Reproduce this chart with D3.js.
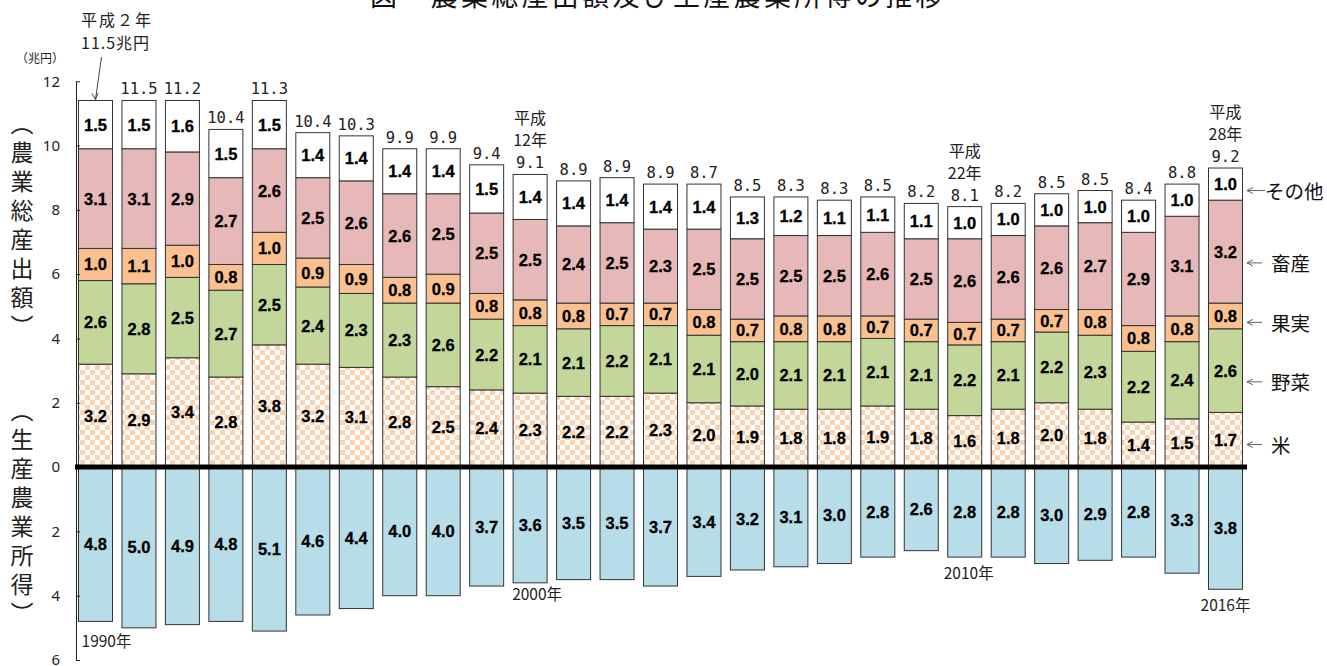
<!DOCTYPE html>
<html><head><meta charset="utf-8">
<script src="https://cdn.jsdelivr.net/npm/d3@7"></script>
<style>body{margin:0;background:#fff} svg{display:block} text{text-spacing-trim:space-all}</style>
</head><body>
<svg id="c" width="1327" height="666"></svg>
<script>
// ---- data ----
const years = d3.range(1990, 2017).map(String);
const rice      = [3.2,2.9,3.4,2.8,3.8,3.2,3.1,2.8,2.5,2.4,2.3,2.2,2.2,2.3,2.0,1.9,1.8,1.8,1.9,1.8,1.6,1.8,2.0,1.8,1.4,1.5,1.7];
const vegetables= [2.6,2.8,2.5,2.7,2.5,2.4,2.3,2.3,2.6,2.2,2.1,2.1,2.2,2.1,2.1,2.0,2.1,2.1,2.1,2.1,2.2,2.1,2.2,2.3,2.2,2.4,2.6];
const fruits    = [1.0,1.1,1.0,0.8,1.0,0.9,0.9,0.8,0.9,0.8,0.8,0.8,0.7,0.7,0.8,0.7,0.8,0.8,0.7,0.7,0.7,0.7,0.7,0.8,0.8,0.8,0.8];
const livestock = [3.1,3.1,2.9,2.7,2.6,2.5,2.6,2.6,2.5,2.5,2.5,2.4,2.5,2.3,2.5,2.5,2.5,2.5,2.6,2.5,2.6,2.6,2.6,2.7,2.9,3.1,3.2];
const others    = [1.5,1.5,1.6,1.5,1.5,1.4,1.4,1.4,1.4,1.5,1.4,1.4,1.4,1.4,1.4,1.3,1.2,1.1,1.1,1.1,1.0,1.0,1.0,1.0,1.0,1.0,1.0];
const totals    = [11.5,11.5,11.2,10.4,11.3,10.4,10.3,9.9,9.9,9.4,9.1,8.9,8.9,8.9,8.7,8.5,8.3,8.3,8.5,8.2,8.1,8.2,8.5,8.5,8.4,8.8,9.2];
const income    = [4.8,5.0,4.9,4.8,5.1,4.6,4.4,4.0,4.0,3.7,3.6,3.5,3.5,3.7,3.4,3.2,3.1,3.0,2.8,2.6,2.8,2.8,3.0,2.9,2.8,3.3,3.8];
const seriesKeys  = ["rice","vegetables","fruits","livestock","others"];
const seriesNames = ["米","野菜","果実","畜産","その他"];
const tickValues  = [-6,-4,-2,0,2,4,6,8,10,12];
const heiseiNotes = [{year:"2000", era:"平成", nen:"12年"},{year:"2010", era:"平成", nen:"22年"},{year:"2016", era:"平成", nen:"28年"}];
const yearNotes   = ["1990","2000","2010","2016"];

const title = "図　農業総産出額及び生産農業所得の推移";

// ---- chart ----
const svg = d3.select("#c");
const x = d3.scaleBand().domain(years).range([78.5, 1242.5]).paddingInner(0.2177).paddingOuter(0);
const y = d3.scaleLinear().domain([-6, 12]).range([660, 81.2]);
const bw = x.bandwidth();

const defs = svg.append("defs");
const pat = defs.append("pattern").attr("id","check").attr("patternUnits","userSpaceOnUse")
  .attr("width",10).attr("height",10);
pat.append("rect").attr("width",10).attr("height",10).attr("fill","#ffffff");
pat.append("rect").attr("width",5).attr("height",5).attr("fill","#fcd3ae");
pat.append("rect").attr("x",5).attr("y",5).attr("width",5).attr("height",5).attr("fill","#fcd3ae");

const fills = {rice:"url(#check)", vegetables:"#c4d79b", fruits:"#fac090", livestock:"#e6b8b7", others:"#ffffff"};

// title
svg.append("text").attr("x", 370).attr("y", 6)
  .attr("font-family","'Noto Sans CJK JP'").attr("font-size",27).attr("letter-spacing",3.3)
  .attr("fill","#111").text(title);

const rows = years.map((yr,i)=>({year:yr, rice:rice[i], vegetables:vegetables[i], fruits:fruits[i], livestock:livestock[i], others:others[i], total:totals[i], income:income[i]}));
const stack = d3.stack().keys(seriesKeys)(rows);

const labelFont = "'Liberation Sans', Arial";

// income bars
svg.append("g").selectAll("rect").data(rows).join("rect")
  .attr("x", d=>x(d.year)).attr("width", bw)
  .attr("y", y(0)).attr("height", d=>y(-d.income)-y(0))
  .attr("fill","#b7dde8").attr("stroke","#333").attr("stroke-width",1);

svg.append("g").selectAll("text").data(rows).join("text")
  .attr("x", d=>x(d.year)+bw/2).attr("y", d=>y(-d.income/2))
  .attr("text-anchor","middle").attr("dominant-baseline","central")
  .attr("font-family",labelFont).attr("font-weight","bold").attr("font-size",16.5)
  .attr("stroke","#000").attr("stroke-width",0.3)
  .text(d=>d.income.toFixed(1));

// stacked bars
const sg = svg.append("g");
stack.forEach(layer=>{
  const g = sg.append("g");
  g.selectAll("rect").data(layer).join("rect")
    .attr("x", d=>x(d.data.year)).attr("width", bw)
    .attr("y", d=>y(d[1])).attr("height", d=>y(d[0])-y(d[1]))
    .attr("fill", fills[layer.key]).attr("stroke","#333").attr("stroke-width",1);
  g.selectAll("text").data(layer).join("text")
    .attr("x", d=>x(d.data.year)+bw/2).attr("y", d=>y((d[0]+d[1])/2))
    .attr("text-anchor","middle").attr("dominant-baseline","central")
    .attr("font-family",labelFont).attr("font-weight","bold").attr("font-size",16.5)
    .attr("stroke","#000").attr("stroke-width",0.3)
    .text(d=>(d[1]-d[0]).toFixed(1));
});

// totals above bars
const topOf = i => stack[stack.length-1][i][1];
svg.append("g").selectAll("text").data(rows.slice(1)).join("text")
  .attr("x", d=>x(d.year)+bw/2).attr("y", (d,i)=>y(topOf(i+1))-6)
  .attr("text-anchor","middle")
  .attr("font-family","'DejaVu Sans Mono'").attr("font-size",15.5).attr("fill","#222")
  .text(d=>d.total.toFixed(1));

// heisei notes
heiseiNotes.forEach(n=>{
  const i = years.indexOf(n.year);
  const cx = x(n.year)+bw/2, base = y(topOf(i))-6;
  [n.nen, n.era].forEach((t,k)=>{
    svg.append("text").attr("x",cx).attr("y", base-22*(k+1)).attr("text-anchor","middle")
      .attr("font-family","'Noto Sans CJK JP'").attr("font-size",16).attr("fill","#222").text(t);
  });
});

// first bar annotation
svg.append("text").attr("x",81).attr("y",26).attr("font-family","'Noto Sans CJK JP'").attr("font-size",16)
  .attr("letter-spacing",2).attr("fill","#222").text("平成２年");
svg.append("text").attr("x",81).attr("y",49).attr("font-family","'Noto Sans CJK JP'").attr("font-size",16)
  .attr("letter-spacing",1).attr("fill","#222").text(totals[0].toFixed(1)+"兆円");
{
  const tx = x(years[0])+bw/2, ty = y(topOf(0));
  svg.append("line").attr("x1",tx+6).attr("y1",57).attr("x2",tx).attr("y2",ty-1).attr("stroke","#444");
  svg.append("path").attr("d",`M${tx-3.5},${ty-7} L${tx},${ty-1} L${tx+2.5},${ty-7.5}`).attr("fill","none").attr("stroke","#444");
}

// year notes below
const yearOffsets = {"1990":[11,26],"2000":[7,17],"2010":[4,22],"2016":[0,22]};
yearNotes.forEach(yr=>{
  const i = years.indexOf(yr);
  svg.append("text").attr("x", x(yr)+bw/2+yearOffsets[yr][0]).attr("y", y(-income[i])+yearOffsets[yr][1])
    .attr("text-anchor","middle").attr("font-family","'Noto Sans CJK JP'").attr("font-size",15.5).attr("fill","#222")
    .text(yr+"年");
});

// axis
const ax = svg.append("g").attr("transform","translate(76,0)")
  .call(d3.axisLeft(y).tickValues(tickValues).tickSizeInner(-4).tickSizeOuter(0).tickPadding(16).tickFormat(d=>Math.abs(d)));
ax.selectAll("text").attr("font-family","'Noto Sans'").attr("font-size",15).attr("fill","#222");
ax.selectAll("line,path").attr("stroke","#222");

// zero line
svg.append("line").attr("x1",75).attr("x2",1247).attr("y1",y(0)).attr("y2",y(0)).attr("stroke","#000").attr("stroke-width",5);

// unit
svg.append("text").attr("x",16).attr("y",63).attr("font-family","'Noto Sans CJK JP'").attr("font-size",12)
  .attr("fill","#222").text("（兆円）");

// vertical titles
[["（農業総産出額）",112],["（生産農業所得）",399]].forEach(([t,top])=>{
  svg.append("text").attr("x",22).attr("y",top)
    .style("writing-mode","vertical-rl").style("text-orientation","upright")
    .attr("font-family","'Noto Sans CJK JP'").attr("font-size",23).attr("letter-spacing",6).attr("fill","#222").text(t);
});

// legend on right
const legendY = {others:8.6, livestock:6.35, fruits:4.5, vegetables:2.65, rice:0.7};
seriesKeys.forEach((k,j)=>{
  const yy = y(legendY[k]);
  const x2 = k==="others" ? 1265 : 1262;
  svg.append("path").attr("d",`M1253,${yy-3} L1247,${yy} L1253,${yy+3} M1247,${yy} L${x2},${yy}`)
    .attr("fill","none").attr("stroke","#555").attr("stroke-width",0.9);
  svg.append("text").attr("x", k==="others"?1265:1271).attr("y",yy).attr("dominant-baseline","central")
    .attr("font-family","'Noto Sans CJK JP'").attr("font-size",19.5).attr("fill","#111").text(seriesNames[j]);
});
</script>
</body></html>
